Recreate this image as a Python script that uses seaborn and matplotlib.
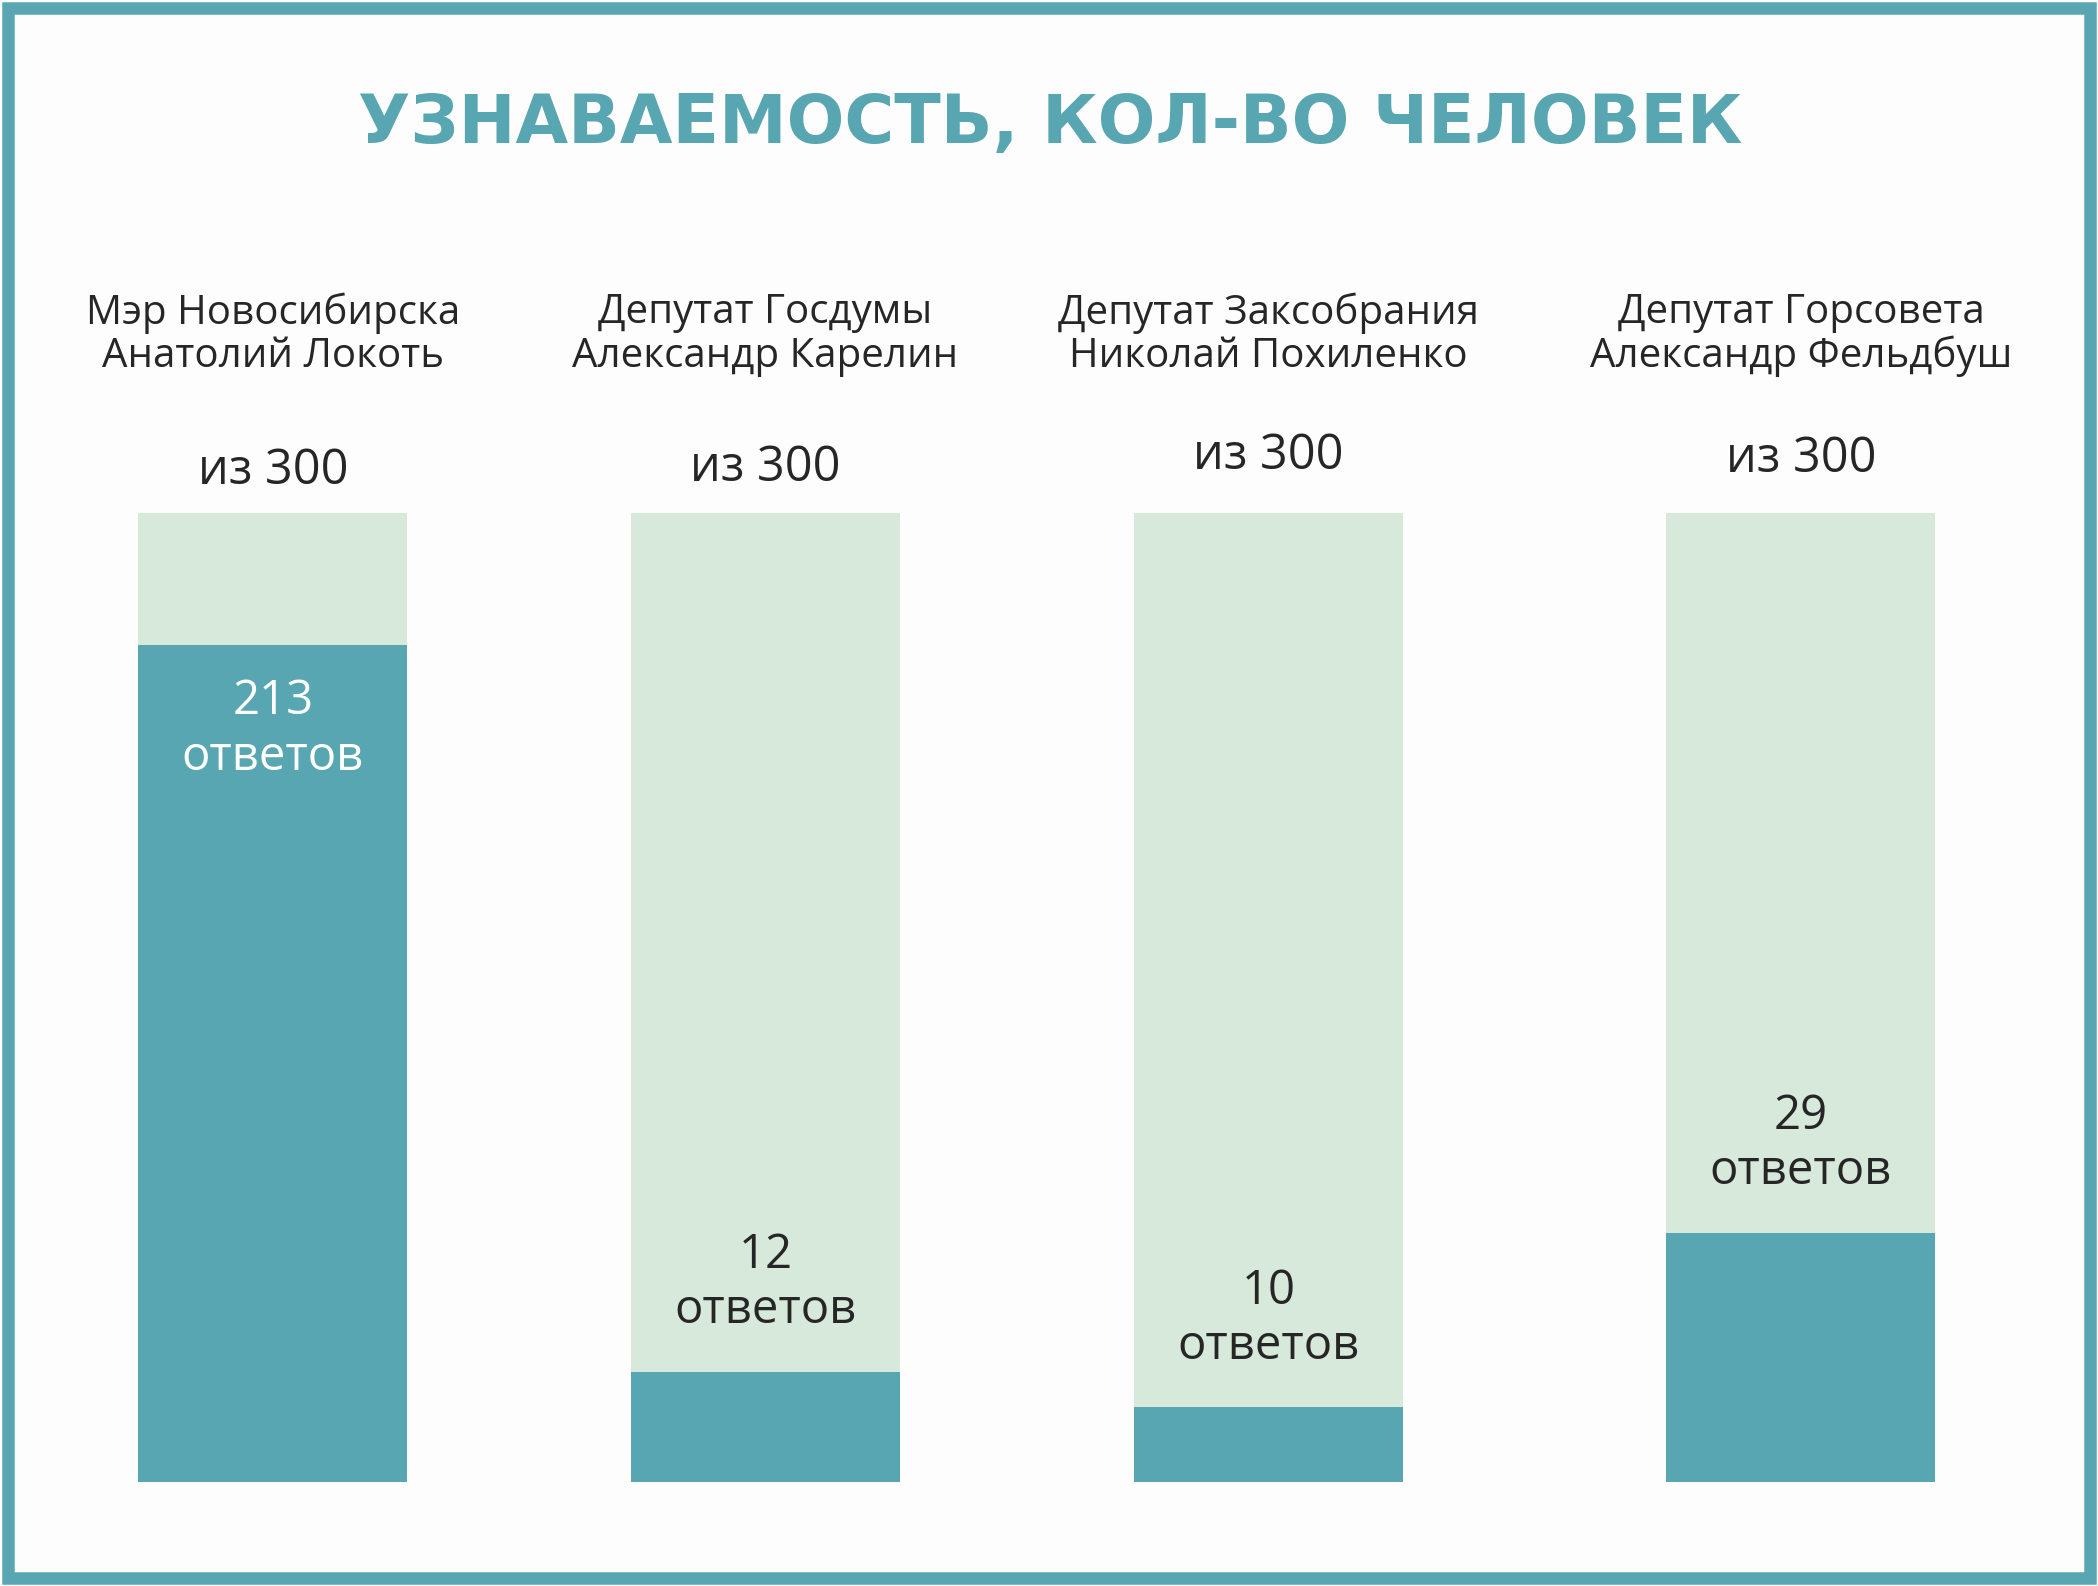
import matplotlib
matplotlib.use("Agg")
import matplotlib.pyplot as plt
import seaborn as sns
import pandas as pd
from matplotlib.patches import Rectangle

names = ["Мэр Новосибирска\nАнатолий Локоть", "Депутат Госдумы\nАлександр Карелин",
         "Депутат Заксобрания\nНиколай Похиленко", "Депутат Горсовета\nАлександр Фельдбуш"]
answers = [213, 12, 10, 29]
total = [300, 300, 300, 300]
# visual bar heights as drawn in the reference (out of 300; the original is not to scale)
drawn = [259, 34, 23, 77]
title = "УЗНАВАЕМОСТЬ, КОЛ-ВО ЧЕЛОВЕК"

TEAL = "#58A6B1"
LIGHT = "#D6E9DA"
DARK = "#262626"

sns.set_theme(style="white")
plt.rcParams["font.family"] = ["Open Sans", "DejaVu Sans"]

W, H = 1568, 1185
centers = [204, 572, 948, 1346]

fig = plt.figure(figsize=(20.98, 15.86), dpi=100)
fig.patch.set_facecolor("#FDFDFD")
fig.patches.append(Rectangle((0.004, 0.005), 0.992, 0.99, transform=fig.transFigure,
                             fill=False, edgecolor=TEAL, linewidth=9))

ax = fig.add_axes([0, (H - 1107) / H, 1, 724 / H])
df = pd.DataFrame({"pos": centers, "total": total, "drawn": drawn})
bw = 201 / 368
sns.barplot(data=df, x="pos", y="total", color=LIGHT, width=bw, native_scale=True,
            ax=ax, saturation=1, linewidth=0)
sns.barplot(data=df, x="pos", y="drawn", color=TEAL, width=bw, native_scale=True,
            ax=ax, saturation=1, linewidth=0)
ax.set_xlim(0, W)
ax.set_ylim(0, 300)
ax.axis("off")

def fx(x): return x / W
def fy(y): return 1 - y / H

fig.text(fx(785), fy(93), title, ha="center", va="center", color=TEAL,
         fontsize=49, fontweight="bold", family=["Liberation Sans Narrow", "DejaVu Sans"])

of_y = [352, 350, 341, 343]
px = 1.338 * 0.72
for i, c in enumerate(centers):
    fig.text(fx(c), fy(250), names[i], ha="center", va="center", color=DARK,
             fontsize=29, linespacing=1.1)
    fig.text(fx(c), fy(of_y[i]), f"из {total[i]}", ha="center", va="center",
             color=DARK, fontsize=35)
    inside = drawn[i] > 150
    col = "white" if inside else DARK
    if inside:
        off_num, off_txt = -42, -84
    else:
        off_num, off_txt = 87, 46
    ax.annotate(str(answers[i]), (c, drawn[i]), xytext=(0, off_num * px),
                textcoords="offset points", ha="center", va="center", color=col, fontsize=34)
    ax.annotate("ответов", (c, drawn[i]), xytext=(0, off_txt * px),
                textcoords="offset points", ha="center", va="center", color=col, fontsize=34)

fig.savefig("out.png", dpi=100, facecolor=fig.get_facecolor())
